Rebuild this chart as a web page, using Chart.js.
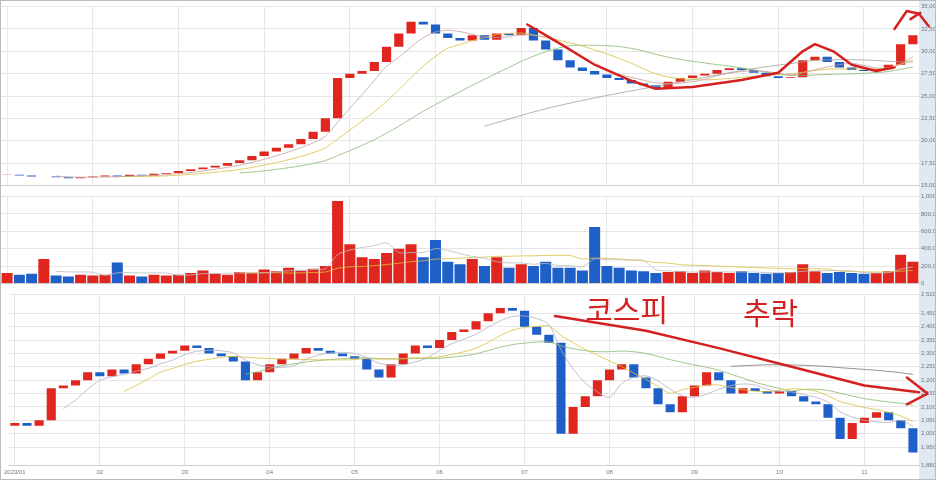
<!DOCTYPE html>
<html><head><meta charset="utf-8">
<script src="https://cdn.jsdelivr.net/npm/chart.js@4.4.0/dist/chart.umd.min.js"></script>
<style>
body{margin:0;background:#fff;font-family:"Noto Sans CJK KR","Noto Sans",sans-serif}
#wrap{position:relative;width:936px;height:480px;overflow:hidden;border:1px solid #bbb;box-sizing:border-box}
.pane{position:absolute;left:0;width:934px}
.axbg{position:absolute;right:0;top:0;width:16px;height:480px;background:#dfe8f3}
</style></head><body>
<div id="wrap">
<div class="axbg"></div>
<div class="pane" style="top:0;height:190px"><canvas id="price"></canvas></div>
<div class="pane" style="top:190px;height:98px"><canvas id="vol"></canvas></div>
<div class="pane" style="top:288px;height:190px"><canvas id="kospi"></canvas></div>
</div>
<script>
// stock closes (thousand won), volumes, KOSPI closes
const closes = [16.2,16.1,16.0,16.0,15.9,15.8,15.9,16.0,16.1,16.0,16.2,16.1,16.3,
  16.4,16.6,16.8,17.0,17.2,17.5,17.8,18.3,18.8,19.2,19.6,20.2,21.0,22.5,27.0,
  27.5,27.8,28.8,30.5,32.0,33.3,33.0,32.0,31.5,31.2,31.8,31.3,32.0,31.8,32.6,
  31.2,30.2,29.0,28.2,27.8,27.4,27.0,26.8,26.4,26.2,25.9,26.6,27.0,27.3,27.5,
  27.9,28.1,27.9,27.6,27.2,27.0,27.1,29.0,29.4,28.8,28.2,27.9,27.8,28.0,28.5,30.8,31.8];
const volumes = [12,10,11,28,9,8,10,9,10,24,9,8,10,9,10,12,15,11,10,13,12,16,14,18,15,17,20,
  95,45,30,28,35,40,45,30,50,25,22,28,20,30,18,22,20,25,18,18,15,65,20,18,15,14,12,
  13,14,12,15,13,12,14,12,11,12,13,22,14,12,13,12,11,12,14,33,25];
const kospi = [2040,2030,2050,2170,2180,2200,2230,2215,2240,2225,2260,2280,2300,2310,2330,
  2320,2300,2290,2270,2200,2230,2260,2280,2300,2320,2310,2300,2290,2280,2240,2210,2260,
  2300,2330,2320,2350,2380,2390,2420,2450,2470,2460,2400,2370,2340,2000,2100,2140,2200,
  2240,2260,2210,2170,2110,2080,2140,2180,2230,2200,2150,2170,2160,2150,2160,2140,2120,
  2110,2060,1980,2040,2060,2080,2050,2020,1930];
const dateLabels = ["2023/01","02","03","04","05","06","07","08","09","10","11","12"];

const RED = "#e0261f", BLUE = "#1f5fc8";
const idx = closes.map((_, i) => i);
const body = arr => arr.map((c, i) => i === 0 ? [c - 0.05, c] : [arr[i - 1], c]);
const colorsOf = arr => arr.map((c, i) => (i === 0 || c >= arr[i - 1]) ? RED : BLUE);
const ma = (arr, n) => arr.map((_, i) => i < n - 1 ? null :
  arr.slice(i - n + 1, i + 1).reduce((a, b) => a + b, 0) / n);

const gridOpts = { color: "#e6e6e6", drawTicks: false };
const yAxis = (min, max, step, fmt) => ({
  position: "right", min, max, grid: gridOpts, border: { display: false },
  ticks: { stepSize: step, font: { size: 6 }, color: "#777", padding: 2, callback: fmt },
  afterFit: s => { s.width = 16; }
});
const xAxis = show => ({
  grid: { color: "#e6e6e6", drawTicks: false, offset: false }, offset: true,
  ticks: { display: show, font: { size: 6 }, color: "#777", autoSkip: false,
    callback: (v, i) => i % 7 === 0 ? dateLabels[i / 7] : null }
});
const maLine = (data, color) => ({ type: "line", data, borderColor: color, borderWidth: 0.8,
  pointRadius: 0, tension: 0.3, order: 0 });
const base = { responsive: true, maintainAspectRatio: false, animation: false,
  plugins: { legend: { display: false }, tooltip: { enabled: false } },
  layout: { padding: { top: 2, bottom: 0 } } };

// hand-drawn annotations anchored to the scales
function scribble(points) {
  return { id: "scribble", afterDatasetsDraw(chart) {
    const { ctx, scales: { x, y } } = chart;
    ctx.save();
    ctx.strokeStyle = "#d42020"; ctx.lineWidth = 2.5; ctx.lineCap = "round"; ctx.lineJoin = "round";
    points.forEach(path => {
      ctx.beginPath();
      path.forEach(([i, v], k) => {
        const px = x.getPixelForValue(i), py = y.getPixelForValue(v);
        k === 0 ? ctx.moveTo(px, py) : ctx.lineTo(px, py);
      });
      ctx.stroke();
    });
    ctx.restore();
  }};
}

new Chart(document.getElementById("price"), {
  type: "bar",
  data: { labels: idx, datasets: [
    { data: body(closes), backgroundColor: colorsOf(closes), barPercentage: 0.75, categoryPercentage: 1, order: 1 },
    maLine(ma(closes, 5), "#c8a0a0"), maLine(ma(closes, 10), "#d8c040"),
    maLine(ma(closes, 20), "#88b870"), maLine(ma(closes, 40), "#a0a0a0")
  ]},
  options: { ...base, scales: { x: xAxis(false), y: yAxis(15, 35, 2.5, v => (v * 1000).toLocaleString()) } },
  plugins: [scribble([
    [[42.5,33],[45,31],[48,28.5],[51,26.7],[53,25.8],[56,26],[60,26.8],[63,27.6],[65,30],[66,30.8],[67.5,30],[69,28.5],[71,27.8],[72.5,28.2]],
    [[72.5,32.5],[73.5,34.5],[74.5,34.2],[75.3,32.8]],
    [[74.6,34.3],[73.8,33.6]]
  ])]
});

new Chart(document.getElementById("vol"), {
  type: "bar",
  data: { labels: idx, datasets: [
    { data: volumes, backgroundColor: colorsOf(closes), barPercentage: 0.9, categoryPercentage: 1, order: 1 },
    maLine(ma(volumes, 5), "#bbbbbb"), maLine(ma(volumes, 20), "#d8c040")
  ]},
  options: { ...base, scales: { x: xAxis(false), y: yAxis(0, 100, 10, v => (v * 10000).toLocaleString()) } }
});

new Chart(document.getElementById("kospi"), {
  type: "bar",
  data: { labels: idx, datasets: [
    { data: body(kospi).map((b, i) => i === 0 ? [2030, 2040] : b), backgroundColor: colorsOf(kospi), barPercentage: 0.75, categoryPercentage: 1, order: 1 },
    maLine(ma(kospi, 5), "#b0b0c8"), maLine(ma(kospi, 10), "#d8c040"),
    maLine(ma(kospi, 20), "#88b870"), maLine(ma(kospi, 60), "#777777")
  ]},
  options: { ...base, scales: { x: xAxis(true), y: yAxis(1880, 2520, 50, v => v.toLocaleString() + ".00") } },
  plugins: [scribble([
    [[44.5,2440],[52,2385],[58,2320],[64,2250],[70,2180],[74.5,2155]],
    [[73.5,2210],[75.2,2150],[73.5,2110]]
  ]), { id: "title", afterDraw(chart) {
    const { ctx } = chart;
    ctx.save();
    ctx.fillStyle = "#d42020";
    ctx.font = "30px 'Noto Sans CJK KR'";
    ctx.fillText("코스피", chart.scales.x.getPixelForValue(47), 32);
    ctx.fillText("추락", chart.scales.x.getPixelForValue(60), 35);
    ctx.restore();
  }}]
});
</script>
</body></html>
